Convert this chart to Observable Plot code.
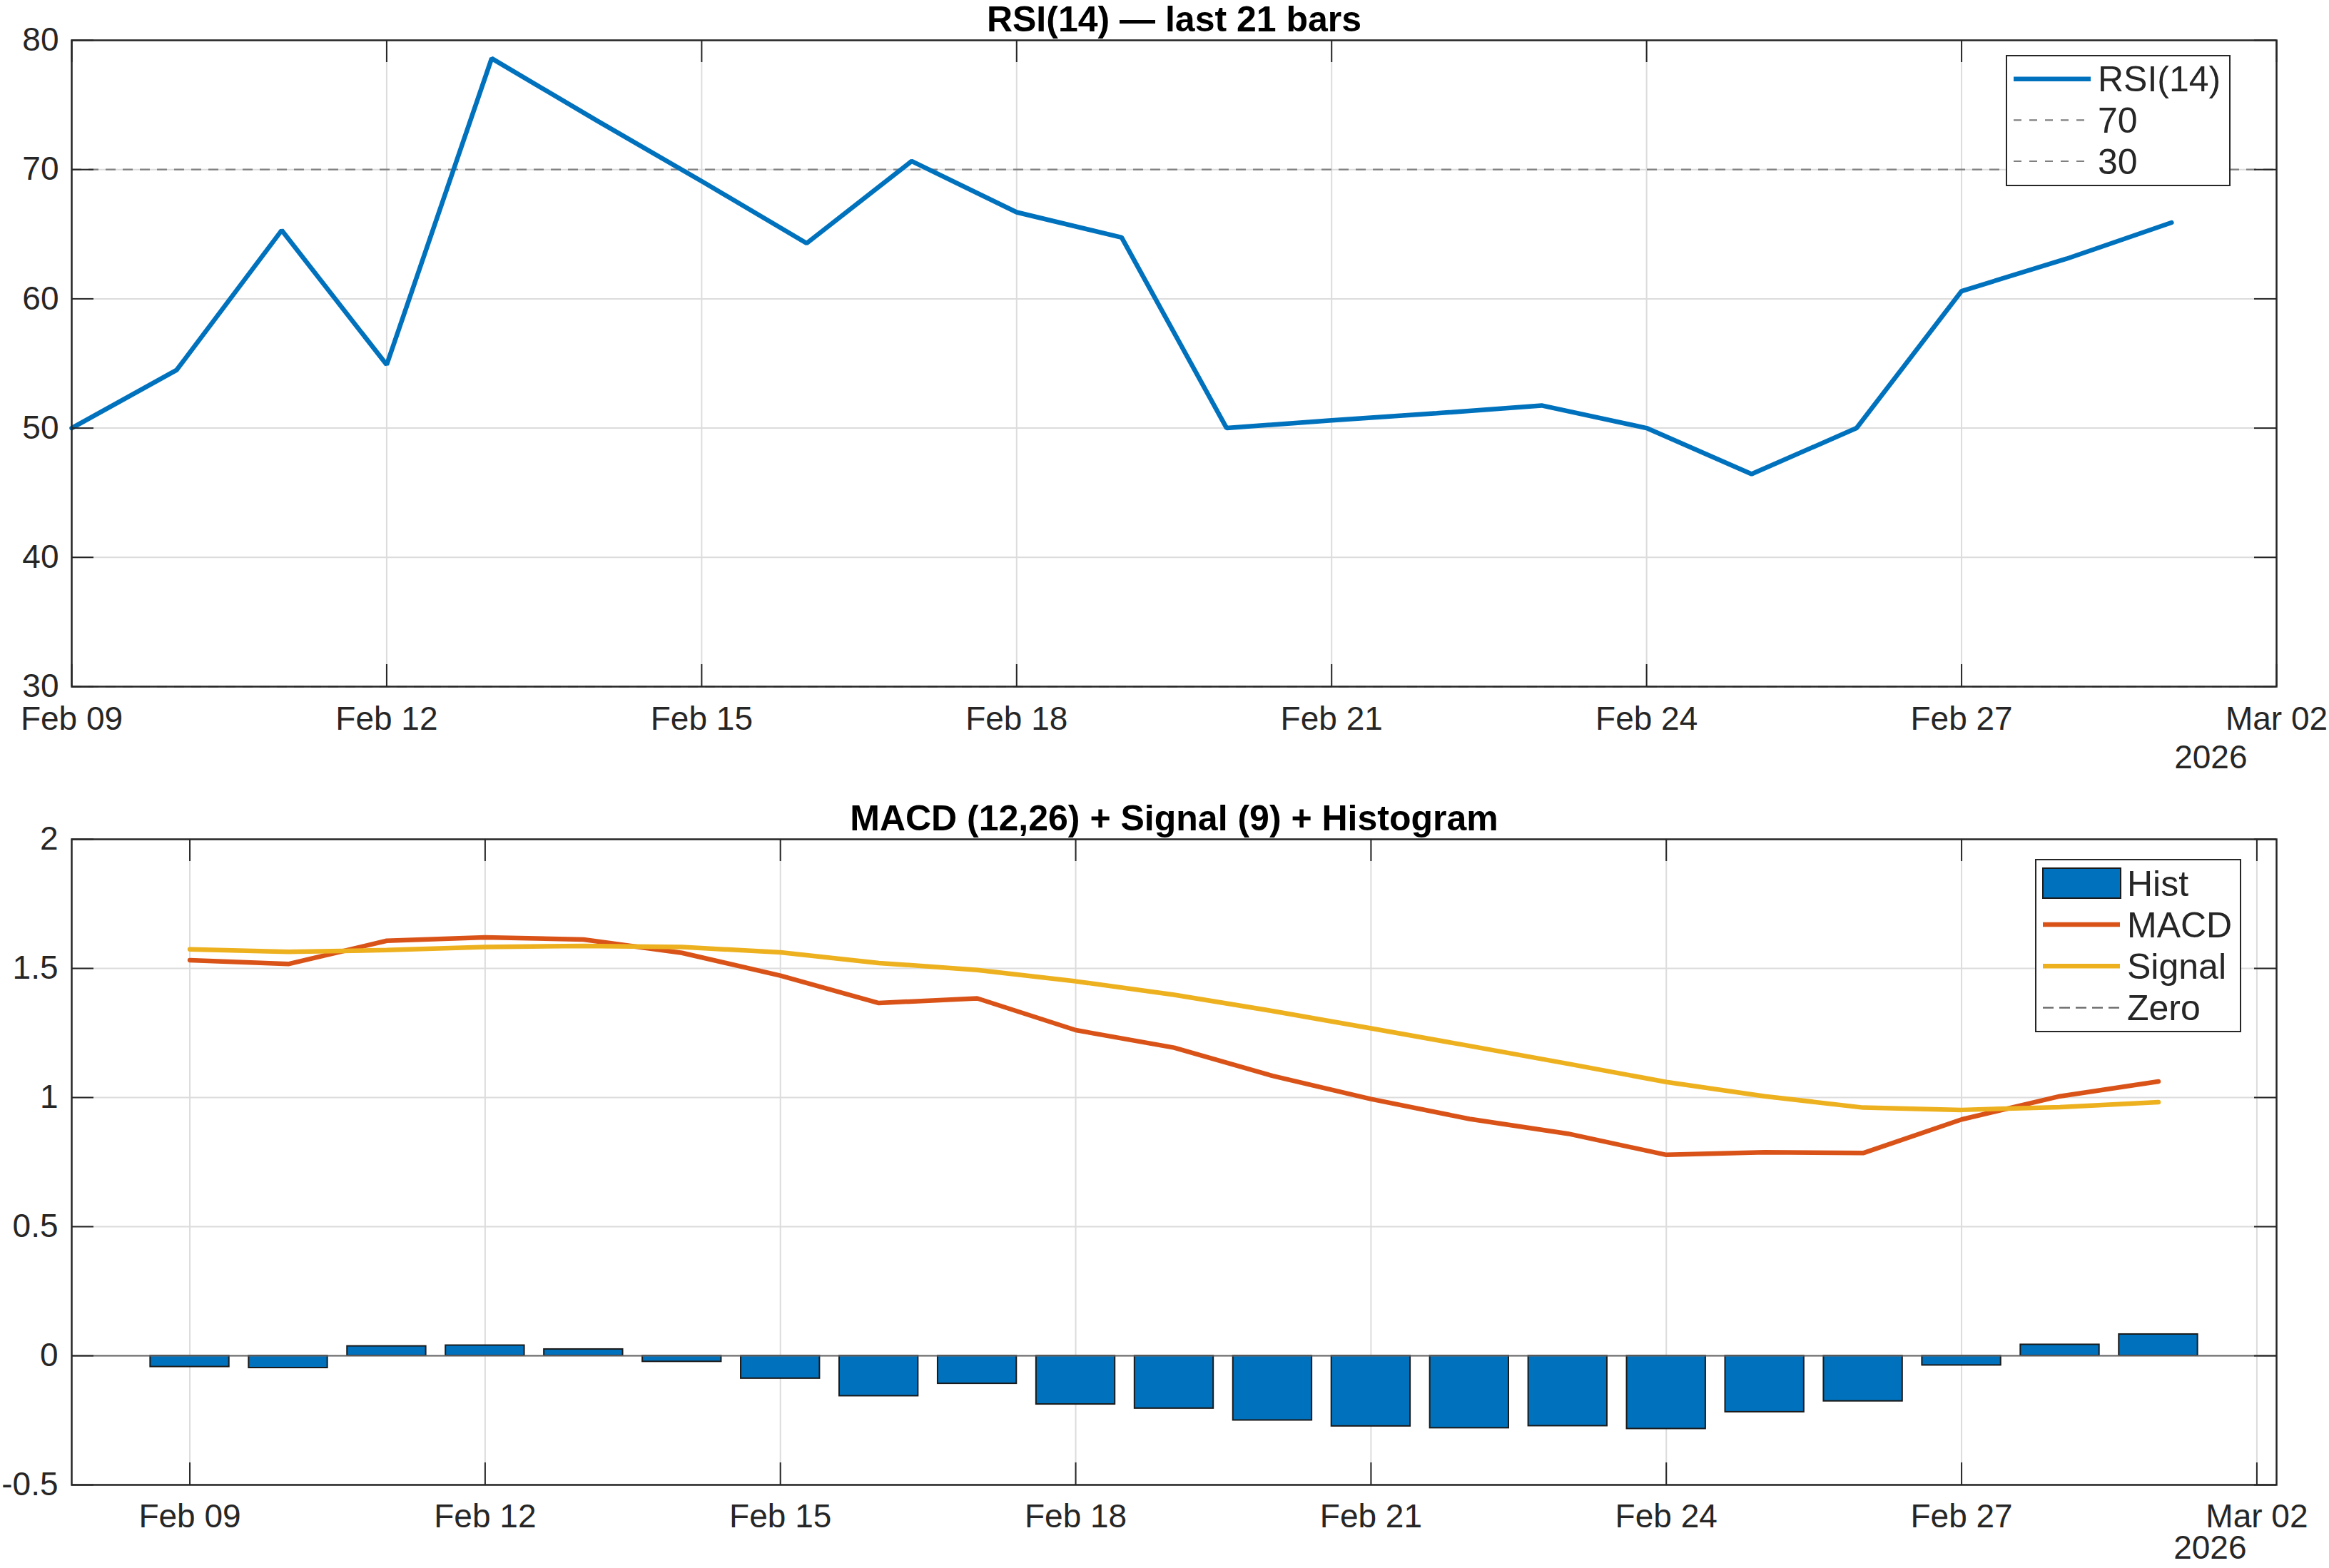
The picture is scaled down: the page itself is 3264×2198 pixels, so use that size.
<!DOCTYPE html>
<html>
<head>
<meta charset="utf-8">
<script src="https://cdn.jsdelivr.net/npm/d3@7"></script>
<script src="https://cdn.jsdelivr.net/npm/@observablehq/plot@0.6"></script>
<style>
  html, body { margin: 0; padding: 0; background: #fff; }
  #fig {
    position: relative; width: 3264px; height: 2198px; overflow: hidden;
    font-family: "Liberation Sans", Arial, Helvetica, sans-serif; color: #262626;
  }
  #fig > svg { position: absolute; left: 0; }
  .legend { position: absolute; }
</style>
</head>
<body>
<div id="fig"></div>
<script>
// ---- Data: one value per daily bar, Feb 09 – Mar 01 2026 ----
const dates = [
  "2026-02-09", "2026-02-10", "2026-02-11", "2026-02-12", "2026-02-13", "2026-02-14", "2026-02-15",
  "2026-02-16", "2026-02-17", "2026-02-18", "2026-02-19", "2026-02-20", "2026-02-21", "2026-02-22",
  "2026-02-23", "2026-02-24", "2026-02-25", "2026-02-26", "2026-02-27", "2026-02-28", "2026-03-01"
];
const rsi = [
  50.0, 54.5, 65.3, 54.9, 78.6, 73.8, 69.1,
  64.3, 70.65, 66.7, 64.75, 50.0, 50.6, 51.15,
  51.75, 50.0, 46.45, 50.0, 60.6, 63.1, 65.9
];
const macd = [
  1.532, 1.517, 1.607, 1.620, 1.612, 1.560, 1.472,
  1.366, 1.384, 1.261, 1.193, 1.084, 0.994, 0.917,
  0.860, 0.778, 0.788, 0.785, 0.915, 1.005, 1.062
];
const signal = [
  1.574, 1.564, 1.571, 1.583, 1.587, 1.583, 1.562,
  1.521, 1.494, 1.450, 1.398, 1.335, 1.268, 1.200,
  1.131, 1.060, 1.005, 0.961, 0.952, 0.963, 0.982
];
const hist = [
  -0.043, -0.047, 0.037, 0.040, 0.025, -0.023, -0.088,
  -0.156, -0.108, -0.188, -0.204, -0.250, -0.273, -0.280,
  -0.272, -0.283, -0.218, -0.176, -0.037, 0.043, 0.083
];
const rsiLevels = [70, 30];

// Axis ticks
const xTickDates = ["2026-02-09", "2026-02-12", "2026-02-15", "2026-02-18", "2026-02-21",
                    "2026-02-24", "2026-02-27", "2026-03-02"];
const rsiTicks = [30, 40, 50, 60, 70, 80];
const macdTicks = [-0.5, 0, 0.5, 1, 1.5, 2];
const yearLabel = "2026";
const rsiTitle = "RSI(14) \u2014 last 21 bars";
const macdTitle = "MACD (12,26) + Signal (9) + Histogram";

// ---- Styling ----
const FONT = "'Liberation Sans', Arial, Helvetica, sans-serif";
const INK = "#262626";
const GRID = "#dcdcdc";
const BLUE = "#0072BD", ORANGE = "#D95319", YELLOW = "#EDB120", DASH = "#808080";
const LINE_W = 6.5;
const TICK_LEN = 31;
const DAY = 864e5;

const rows = dates.map((d, i) => ({
  date: new Date(d), rsi: rsi[i], macd: macd[i], signal: signal[i], hist: hist[i]
}));
const xTicks = xTickDates.map(d => new Date(d));
const fmtDate = d3.utcFormat("%b %d");

const fig = document.getElementById("fig");
const W = 3264, ML = 100, MR = 74;
const innerW = W - ML - MR;

// Axes box with inward ticks on all four sides
function boxMarks(xt, yt, innerH) {
  const tick = {stroke: INK, strokeWidth: 2};
  return [
    Plot.tickX(xt, {x: d => d, insetTop: innerH - TICK_LEN, ...tick}),
    Plot.tickX(xt, {x: d => d, insetBottom: innerH - TICK_LEN, ...tick}),
    Plot.tickY(yt, {y: d => d, insetRight: innerW - TICK_LEN, ...tick}),
    Plot.tickY(yt, {y: d => d, insetLeft: innerW - TICK_LEN, ...tick}),
    Plot.frame({stroke: INK, strokeWidth: 2.5})
  ];
}

function titleMark(t) {
  return Plot.text([t], {text: d => d, frameAnchor: "top", lineAnchor: "bottom", dy: -13,
    fontSize: 50, fontWeight: "bold", fill: "#000"});
}
function yearMark(dx, dy) {
  return Plot.text([yearLabel], {text: d => d, frameAnchor: "bottom-right", textAnchor: "end",
    lineAnchor: "top", dx, dy, fontSize: 46, fill: INK});
}

// ---- Panel 1: RSI ----
const h1 = 1090, mt1 = 56, mb1 = 128;
const rsiPlot = Plot.plot({
  width: W, height: h1, marginTop: mt1, marginBottom: mb1, marginLeft: ML, marginRight: MR,
  style: {fontFamily: FONT, fontSize: "46px", color: INK, background: "transparent", overflow: "visible"},
  x: {type: "utc", domain: [new Date("2026-02-09"), new Date("2026-03-02")], axis: null},
  y: {domain: [30, 80], axis: null},
  marks: [
    Plot.gridX(xTicks, {stroke: GRID, strokeOpacity: 1, strokeWidth: 2}),
    Plot.gridY(rsiTicks, {stroke: GRID, strokeOpacity: 1, strokeWidth: 2}),
    Plot.ruleY(rsiLevels, {stroke: DASH, strokeWidth: 2.2, strokeDasharray: "14,10"}),
    Plot.lineY(rows, {x: "date", y: "rsi", stroke: BLUE, strokeWidth: LINE_W, strokeLinejoin: "miter"}),
    ...boxMarks(xTicks, rsiTicks, h1 - mt1 - mb1),
    Plot.axisX({ticks: xTicks, tickSize: 0, tickPadding: 28, tickFormat: fmtDate, fontSize: 46, label: null}),
    Plot.axisY({ticks: rsiTicks, tickSize: 0, tickPadding: 18, tickFormat: d => String(d), fontSize: 46, label: null}),
    titleMark(rsiTitle),
    yearMark(-41, 82)
  ]
});
rsiPlot.style.top = "0px";
fig.appendChild(rsiPlot);

// ---- Panel 2: MACD ----
const top2 = 1090, h2 = 1108, mt2 = 86, mb2 = 117;
const barHalf = 0.4 * DAY;
const macdPlot = Plot.plot({
  width: W, height: h2, marginTop: mt2, marginBottom: mb2, marginLeft: ML, marginRight: MR,
  style: {fontFamily: FONT, fontSize: "46px", color: INK, background: "transparent", overflow: "visible"},
  x: {type: "utc", domain: [new Date(+new Date("2026-02-09") - 1.2 * DAY), new Date(+new Date("2026-03-02") + 0.2 * DAY)], axis: null},
  y: {domain: [-0.5, 2], axis: null},
  marks: [
    Plot.gridX(xTicks, {stroke: GRID, strokeOpacity: 1, strokeWidth: 2}),
    Plot.gridY(macdTicks, {stroke: GRID, strokeOpacity: 1, strokeWidth: 2}),
    Plot.rectY(rows, {
      x1: d => new Date(+d.date - barHalf), x2: d => new Date(+d.date + barHalf),
      y1: 0, y2: "hist", fill: BLUE, stroke: "#1a1a1a", strokeWidth: 2
    }),
    Plot.ruleY([0], {stroke: "#666", strokeWidth: 2.2}),
    Plot.lineY(rows, {x: "date", y: "macd", stroke: ORANGE, strokeWidth: LINE_W, strokeLinejoin: "miter"}),
    Plot.lineY(rows, {x: "date", y: "signal", stroke: YELLOW, strokeWidth: LINE_W, strokeLinejoin: "miter"}),
    ...boxMarks(xTicks, macdTicks, h2 - mt2 - mb2),
    Plot.axisX({ticks: xTicks, tickSize: 0, tickPadding: 27, tickFormat: fmtDate, fontSize: 46, label: null}),
    Plot.axisY({ticks: macdTicks, tickSize: 0, tickPadding: 19, tickFormat: d => String(d), fontSize: 46, label: null}),
    titleMark(macdTitle),
    yearMark(-42, 71)
  ]
});
macdPlot.style.top = top2 + "px";
fig.appendChild(macdPlot);

// ---- Legends ----
function legend(x, y, w, h, entries) {
  const svg = d3.create("svg")
    .attr("class", "legend")
    .attr("width", w).attr("height", h)
    .style("left", x + "px").style("top", y + "px");
  svg.append("rect").attr("x", 1).attr("y", 1).attr("width", w - 2).attr("height", h - 2)
    .attr("fill", "#fff").attr("stroke", INK).attr("stroke-width", 2);
  for (const e of entries) {
    if (e.kind === "patch") {
      svg.append("rect").attr("x", 11).attr("y", e.cy - 21).attr("width", 109).attr("height", 42)
        .attr("fill", e.color).attr("stroke", "#1a1a1a").attr("stroke-width", 2);
    } else {
      svg.append("line").attr("x1", 11).attr("x2", 119).attr("y1", e.cy).attr("y2", e.cy)
        .attr("stroke", e.color).attr("stroke-width", e.width)
        .attr("stroke-dasharray", e.dash || null);
    }
    svg.append("text").attr("x", 129).attr("y", e.cy + 17.5)
      .attr("font-family", FONT).attr("font-size", 50).attr("fill", INK).text(e.label);
  }
  fig.appendChild(svg.node());
}

legend(2811, 77, 315, 184, [
  {label: "RSI(14)", color: BLUE, width: LINE_W, cy: 33.7},
  {label: String(rsiLevels[0]), color: DASH, width: 2.2, dash: "11,11", cy: 91.3},
  {label: String(rsiLevels[1]), color: DASH, width: 2.2, dash: "11,11", cy: 149}
]);
legend(2852, 1204, 289, 243, [
  {label: "Hist", kind: "patch", color: BLUE, cy: 34},
  {label: "MACD", color: ORANGE, width: LINE_W, cy: 92},
  {label: "Signal", color: YELLOW, width: LINE_W, cy: 150.3},
  {label: "Zero", color: "#666", width: 2.2, dash: "15,8", cy: 208.7}
]);
</script>
</body>
</html>
